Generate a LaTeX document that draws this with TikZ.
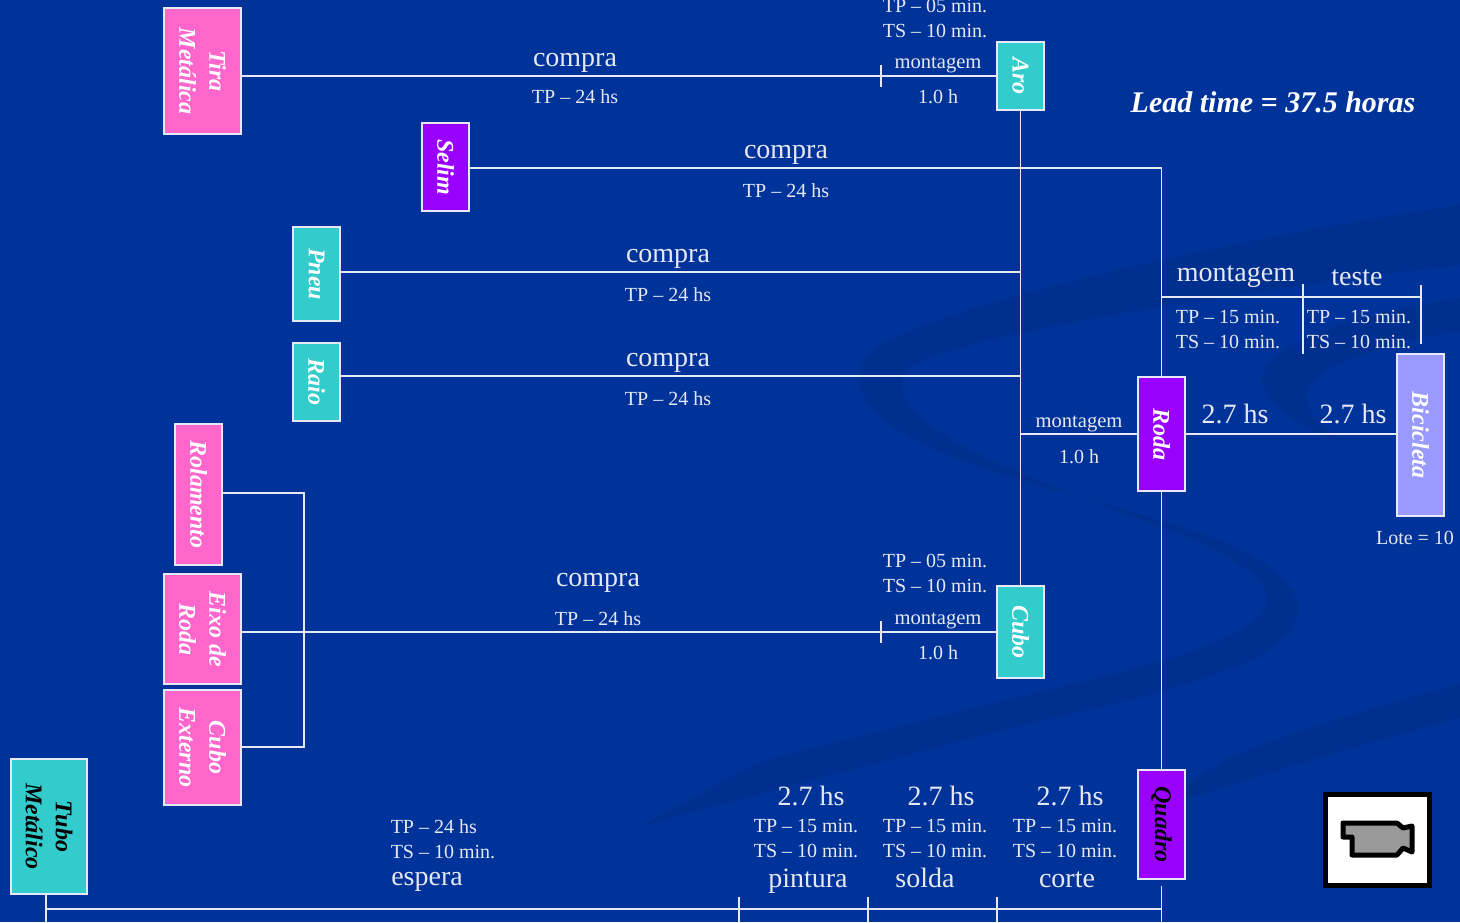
\documentclass[tikz,border=0pt]{standalone}
\usepackage{fontspec}
\setmainfont{Liberation Serif}
\usetikzlibrary{positioning}

\definecolor{slideblue}{HTML}{003399}
\definecolor{swooshblue}{HTML}{00308F}
\definecolor{wirecolor}{HTML}{E6E8F4}
\definecolor{pinkpart}{HTML}{FF66CC}
\definecolor{tealpart}{HTML}{33CCCC}
\definecolor{purplepart}{HTML}{9900FF}
\definecolor{lilacpart}{HTML}{9999FF}

\begin{document}
\begin{tikzpicture}[
    x=1pt, y=-1pt,
    wire/.style={draw=wirecolor, line width=1.5pt},
    part/.style={
        draw=wirecolor,
        line width=1.5pt,
        rotate=-90,
        align=center,
        inner sep=0pt,
        text=white,
        font=\fontsize{24}{30}\selectfont\bfseries\itshape
    },
    buy/.style={part, fill=pinkpart},
    sub/.style={part, fill=tealpart},
    asm/.style={part, fill=purplepart},
    big/.style={text=wirecolor, inner sep=0pt, font=\fontsize{28}{30}\selectfont},
    small/.style={text=wirecolor, inner sep=0pt, align=center, font=\fontsize{20}{25}\selectfont},
    mount/.style={small, font=\fontsize{20.6}{25}\selectfont}
]
\useasboundingbox (0,0) rectangle (1460,922);
\fill[slideblue] (0,0) rectangle (1460,922);

% ---------------- BACKGROUND ----------------
\fill[swooshblue] (1460,205) .. controls (1250,235) and (960,300) .. (880,345) .. controls (840,375) and (860,410) .. (916,441) .. controls (1000,480) and (1100,500) .. (1190,530) .. controls (1270,555) and (1300,590) .. (1298,610) .. controls (1290,660) and (1200,680) .. (1130,700) .. controls (1000,730) and (880,762) .. (760,794) -- (640,826) -- (760,762) .. controls (900,725) and (1010,700) .. (1130,670) .. controls (1220,645) and (1265,625) .. (1266,600) .. controls (1268,575) and (1220,550) .. (1170,530) .. controls (1100,505) and (1000,470) .. (939,432) .. controls (905,410) and (895,385) .. (907,369) .. controls (950,335) and (1250,290) .. (1460,265) -- cycle;
\fill[swooshblue] (1460,298) .. controls (1350,315) and (1265,345) .. (1262,378) .. controls (1262,400) and (1285,420) .. (1340,441) .. controls (1310,415) and (1300,400) .. (1309,387) .. controls (1325,360) and (1400,340) .. (1460,331) -- cycle;
\fill[swooshblue] (1460,684) .. controls (1380,705) and (1300,730) .. (1251,749) .. controls (1220,760) and (1200,775) .. (1184,790) -- (1184,800) .. controls (1230,785) and (1340,750) .. (1460,718) -- cycle;

% ---------------- PARTS ----------------
\node[buy, minimum width=126pt, minimum height=77pt] (Tira)    at (202.5,71)  {Tira\\Metálica};
\node[asm, minimum width=88pt,  minimum height=47pt] (Selim)   at (445.5,167) {Selim};
\node[sub, minimum width=94pt,  minimum height=47pt] (Pneu)    at (316.5,274) {Pneu};
\node[sub, minimum width=78pt,  minimum height=47pt] (Raio)    at (316.5,382) {Raio};
\node[buy, minimum width=141pt, minimum height=47pt] (Rolam)   at (198.5,494.5) {Rolamento};
\node[buy, minimum width=110pt, minimum height=77pt] (Eixo)    at (202.5,629) {Eixo de\\Roda};
\node[buy, minimum width=115pt, minimum height=77pt] (CuboExt) at (202.5,747.5) {Cubo\\Externo};
\node[sub, minimum width=135pt, minimum height=76pt, text=black] (Tubo) at (49,826.5) {Tubo\\Metálico};
\node[sub, minimum width=68pt,  minimum height=47pt] (Aro)     at (1020.5,76) {Aro};
\node[sub, minimum width=92pt,  minimum height=47pt] (Cubo)    at (1020.5,632) {Cubo};
\node[asm, minimum width=114pt, minimum height=47pt] (Roda)    at (1161.5,434) {Roda};
\node[asm, minimum width=109pt, minimum height=47pt, text=black] (Quadro) at (1161.5,824.5) {Quadro};
\node[part, fill=lilacpart, minimum width=162pt, minimum height=47pt] (Bicicleta) at (1420.5,435) {Bicicleta};

% Junctions:
\coordinate (tickAro)    at (881,76);
\coordinate (tickCubo)   at (881,632);
\coordinate (selimEnd)   at (1161.5,168);
\coordinate (pneuEnd)    at (1020.5,272);
\coordinate (raioEnd)    at (1020.5,376);
\coordinate (rodaIn)     at (1020.5,434);
\coordinate (rolamTurn)  at (304,493);
\coordinate (cuboTurn)   at (304,747);
\coordinate (testeStart) at (1161.5,297);
\coordinate (testeEnd)   at (1421,297);
\coordinate (frameTop)   at (1161.5,886);
\coordinate (frameEnd)   at (1161.5,922);
\coordinate (frameRail)  at (1161.5,909);
\coordinate (tubeRail)   at (46,909);
\coordinate (tubeEnd)    at (46,922);
\coordinate (tubeTop)    at (46,894);

% Purchase lines:
\draw[wire] (Tira.north |- tickAro) -- (Aro.south |- tickAro);
\draw[wire] (Selim.north |- selimEnd) -- (selimEnd) -- (Roda.west);
\draw[wire] (Pneu.north |- pneuEnd) -- (pneuEnd);
\draw[wire] (Raio.north |- raioEnd) -- (raioEnd);
\draw[wire] (Eixo.north |- tickCubo) -- (Cubo.south |- tickCubo);
\draw[wire] (Rolam.north |- rolamTurn) -- (rolamTurn) -- (cuboTurn) -- (CuboExt.north |- cuboTurn);

% Assembly lines:
\draw[wire] (Aro.east)    -- (Cubo.west);
\draw[wire] (rodaIn)      -- (Roda.south |- rodaIn);
\draw[wire] (Roda.north |- rodaIn) -- (Bicicleta.south |- rodaIn);
\draw[wire] (Roda.east)   -- (Quadro.west);
\draw[wire] (frameTop)    -- (frameEnd);
\draw[wire] (tubeRail)    -- (frameRail);
\draw[wire] (tubeTop)     -- (tubeEnd);
\draw[wire] (testeStart)  -- (testeEnd);

% Ticks:
\draw[wire] (881,65)   -- (881,87);
\draw[wire] (881,621)  -- (881,643);
\draw[wire] (1303,284) -- (1303,354);
\draw[wire] (1421,285) -- (1421,344);
\draw[wire] (739,897)  -- (739,922);
\draw[wire] (868,897)  -- (868,922);
\draw[wire] (997,897)  -- (997,922);

% Purchase labels:
\node[big]   (compraTira)  at (575,63)  {compra};
\node[small] (tempoTira)   at (575,97)  {TP -- 24 hs};
\node[big]   (compraSelim) at (786,155) {compra};
\node[small] (tempoSelim)  at (786,191) {TP -- 24 hs};
\node[big]   (compraPneu)  at (668,259) {compra};
\node[small] (tempoPneu)   at (668,295) {TP -- 24 hs};
\node[big]   (compraRaio)  at (668,363) {compra};
\node[small] (tempoRaio)   at (668,399) {TP -- 24 hs};
\node[big]   (compraCubo)  at (598,583) {compra};
\node[small] (tempoCubo)   at (598,619) {TP -- 24 hs};

% Assembly labels:
\node[small] (setupAro)   at (935,18)   {TP -- 05 min.\\TS -- 10 min.};
\node[mount] (montAro)    at (938,65)   {montagem};
\node[small] (horaAro)    at (938,97)   {1.0 h};
\node[small] (setupCubo)  at (935,573)  {TP -- 05 min.\\TS -- 10 min.};
\node[mount] (montCubo)   at (938,621)  {montagem};
\node[small] (horaCubo)   at (938,653)  {1.0 h};
\node[mount] (montRoda)   at (1079,424) {montagem};
\node[small] (horaRoda)   at (1079,457) {1.0 h};

% Final labels:
\node[big]   (montFinal)  at (1236,277)  {montagem};
\node[big]   (testeFinal) at (1357,278)  {teste};
\node[small] (setupMont)  at (1228,330)  {TP -- 15 min.\\TS -- 10 min.};
\node[small] (setupTeste) at (1359,330)  {TP -- 15 min.\\TS -- 10 min.};
\node[big]   (filaRoda)   at (1235,414)  {2.7 hs};
\node[big]   (filaBici)   at (1353,414)  {2.7 hs};
\node[small] (lote)       at (1415,538)  {Lote = 10};
\node[big, text=white, font=\fontsize{30}{30}\selectfont\itshape\bfseries] (lead) at (1273,102) {Lead time = 37.5 horas};

% Bottom labels:
\node[small, align=left] (setupEspera) at (443,839) {TP -- 24 hs\\TS -- 10 min.};
\node[big]   (espera)       at (427,882)  {espera};
\node[big]   (filaPintura)  at (811,796)  {2.7 hs};
\node[small] (setupPintura) at (806,839)  {TP -- 15 min.\\TS -- 10 min.};
\node[big]   (pintura)      at (808,881)  {pintura};
\node[big]   (filaSolda)    at (941,796)  {2.7 hs};
\node[small] (setupSolda)   at (935,839)  {TP -- 15 min.\\TS -- 10 min.};
\node[big]   (solda)        at (925,878)  {solda};
\node[big]   (filaCorte)    at (1070,796) {2.7 hs};
\node[small] (setupCorte)   at (1065,839) {TP -- 15 min.\\TS -- 10 min.};
\node[big]   (corte)        at (1067,880) {corte};

% ---------------- CAMERA ----------------
\node[draw=black, fill=white, line width=5pt, minimum width=104pt, minimum height=91pt] (frameIcon) at (1377.5,840) {};
\draw[black, fill=gray!80, line width=5pt, line join=round] (1343,823) -- (1397,823) -- (1403,828) -- (1412,826) -- (1412,852) -- (1403,848) -- (1397,855) -- (1352,855) -- (1352,837) -- (1343,837) -- cycle;

\end{tikzpicture}
\end{document}
